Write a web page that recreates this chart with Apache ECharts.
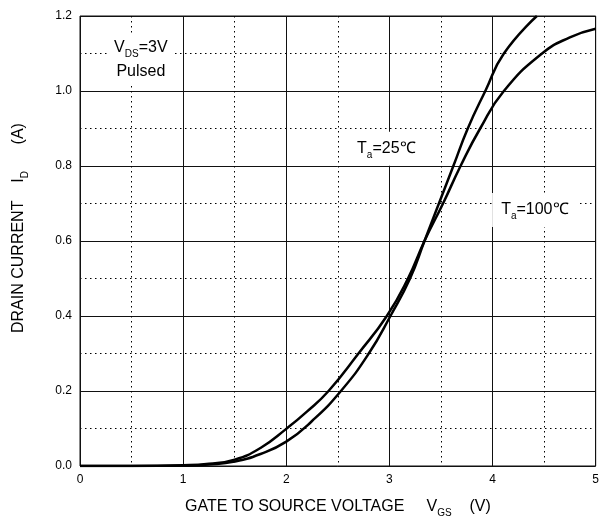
<!DOCTYPE html>
<html>
<head>
<meta charset="utf-8">
<script src="https://cdn.jsdelivr.net/npm/echarts@6/dist/echarts.min.js"></script>
<style>
  html, body { margin: 0; padding: 0; background: #fff; }
  #chart { width: 602px; height: 516px; }
</style>
</head>
<body>
<div id="chart"></div>
<script>
// transfer characteristics
const vgs25 = [0, 0.5, 1.0, 1.25, 1.5, 1.75, 2.0, 2.25, 2.53, 2.80, 3.01, 3.20, 3.34, 3.48, 3.62, 3.76, 3.93, 4.11, 4.43];
const id25 = [0, 0, 0.001, 0.004, 0.012, 0.032, 0.065, 0.12, 0.2, 0.3, 0.4, 0.5, 0.6, 0.7, 0.8, 0.9, 1.0, 1.1, 1.2];
const vgs100 = [0, 0.5, 1.0, 1.25, 1.5, 1.75, 2.0, 2.2, 2.41, 2.70, 2.975, 3.18, 3.34, 3.52, 3.69, 3.88, 4.11, 4.48, 4.75, 5.0];
const id100 = [0, 0, 0.002, 0.006, 0.017, 0.048, 0.099, 0.145, 0.2, 0.3, 0.4, 0.5, 0.6, 0.7, 0.8, 0.9, 1.0, 1.1, 1.143, 1.166];
const xTicks = { min: 0, max: 5, interval: 1 };
const yTicks = { min: 0, max: 1.2, interval: 0.2 };

const font = "Liberation Sans, Arial, sans-serif";
const main = { fontSize: 16, fontFamily: font, color: "#000", lineHeight: 22 };
const sub = { fontSize: 10, fontFamily: font, color: "#000", verticalAlign: "bottom", lineHeight: 9 };
const main2 = { ...main, lineHeight: 24 };
const pairs = (xs, ys) => xs.map((x, i) => [x, ys[i]]);

const chart = echarts.init(document.getElementById("chart"), null, { renderer: "canvas" });
const axisCommon = {
  type: "value",
  axisLine: { show: false },
  axisTick: { show: false },
  splitLine: { show: true, lineStyle: { color: "#111", width: 1 } },
  minorTick: { show: false, splitNumber: 2 },
  minorSplitLine: { show: true, lineStyle: { color: "#000", width: 1, type: [1.5, 3.5] } },
  axisLabel: { color: "#000", fontSize: 12, fontFamily: font, margin: 8 },
};

chart.setOption({
  animation: false,
  grid: { left: 80, right: 5, top: 16, bottom: 50, show: true, borderColor: "#111", borderWidth: 1 },
  xAxis: { ...axisCommon, ...xTicks },
  yAxis: {
    ...axisCommon, ...yTicks,
    axisLabel: { ...axisCommon.axisLabel, formatter: v => v.toFixed(1) },
  },
  graphic: [
    {
      type: "text", left: 185, top: 499,
      style: { text: "{m|GATE TO SOURCE VOLTAGE     V}{s|GS}{m|    (V)}", rich: { m: main, s: sub } },
    },
    {
      type: "text", rotation: Math.PI / 2, x: 8, y: 333,
      style: { text: "{m|DRAIN CURRENT    I}{s|D}{m|      (A)}", rich: { m: main, s: sub } },
    },
  ],
  series: [
    {
      name: "Ta=25℃", type: "line", data: pairs(vgs25, id25),
      smooth: 0.5, showSymbol: false,
      lineStyle: { color: "#000", width: 2.5 },
      markPoint: {
        symbol: "circle", symbolSize: 0, silent: true,
        label: {
          show: true, position: "inside", backgroundColor: "#fff", padding: [6, 8],
          align: "center", verticalAlign: "middle", rich: { m: main, s: sub, n: main2 },
        },
        data: [
          { coord: [0.59, 1.084], label: { formatter: "{n|V}{s|DS}{n|=3V}\n{n|Pulsed}", padding: [1, 7] } },
          { coord: [2.97, 0.846], label: { formatter: "{m|T}{s|a}{m|=25℃}" } },
          { coord: [4.41, 0.683], label: { formatter: "{m|T}{s|a}{m|=100℃}", padding: [6, 9] } },
        ],
      },
    },
    {
      name: "Ta=100℃", type: "line", data: pairs(vgs100, id100),
      smooth: 0.5, showSymbol: false,
      lineStyle: { color: "#000", width: 2.5 },
    },
  ],
});
</script>
</body>
</html>
